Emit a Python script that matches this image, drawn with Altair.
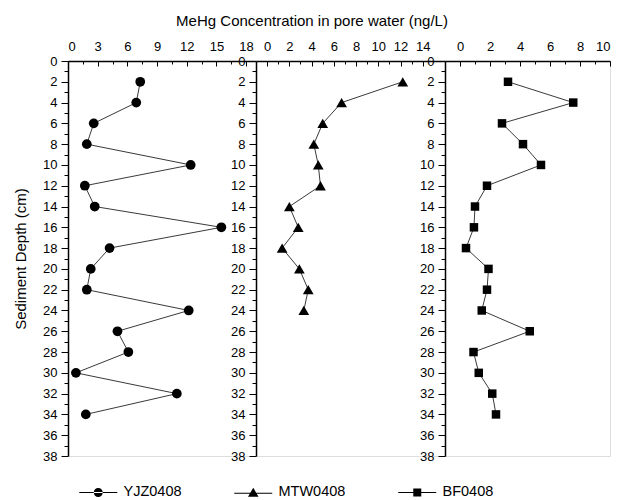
import altair as alt
import pandas as pd

sites = ["YJZ0408", "MTW0408", "BF0408"]

depth_yjz = [2, 4, 6, 8, 10, 12, 14, 16, 18, 20, 22, 24, 26, 28, 30, 32, 34]
conc_yjz = [7.3, 6.9, 2.6, 1.9, 12.4, 1.7, 2.7, 15.5, 4.2, 2.3, 1.9, 12.2, 5.0, 6.1, 0.8, 11.0, 1.8]

depth_mtw = [2, 4, 6, 8, 10, 12, 14, 16, 18, 20, 22, 24]
conc_mtw = [12.2, 6.7, 5.0, 4.2, 4.6, 4.8, 2.0, 2.8, 1.35, 2.9, 3.7, 3.3]

depth_bf = [2, 4, 6, 8, 10, 12, 14, 16, 18, 20, 22, 24, 26, 28, 30, 32, 34]
conc_bf = [3.2, 7.55, 2.8, 4.2, 5.4, 1.8, 1.0, 0.93, 0.4, 1.9, 1.8, 1.45, 4.65, 0.9, 1.25, 2.15, 2.4]

x_domains = [[0, 19], [-1, 16], [-1, 10]]
x_major_ticks = [[0, 3, 6, 9, 12, 15, 18], [0, 2, 4, 6, 8, 10, 12, 14], [0, 2, 4, 6, 8, 10]]
x_minor_ticks = [[1.5, 4.5, 7.5, 10.5, 13.5, 16.5], [1, 3, 5, 7, 9, 11, 13], [1, 3, 5, 7, 9]]
y_major_ticks = list(range(0, 39, 2))
y_minor_ticks = list(range(1, 38, 2))
widths = [188, 189, 165]
shapes = ["circle", "triangle-up", "square"]
sizes = [95, 115, 72]

legend_paths = [
    "M-3.8,-0.1H3.8V0.1H-3.8ZM-0.9,0A0.9,0.9 0 1,0 0.9,0A0.9,0.9 0 1,0 -0.9,0Z",
    "M-3.8,0.05H3.8V0.25H-3.8ZM0,-0.95L1.05,0.85L-1.05,0.85Z",
    "M-3.8,-0.1H3.8V0.1H-3.8ZM-0.8,-0.8H0.8V0.8H-0.8Z",
]

FONT = "Liberation Sans"


def panel(i, depth, conc, site):
    df = pd.DataFrame({"depth": depth, "conc": conc, "site": site})
    xscale = alt.Scale(domain=x_domains[i], nice=False, zero=False)
    yscale = alt.Scale(domain=[0, 38], reverse=True, nice=False, zero=False)

    x_major = alt.Axis(
        orient="top", values=x_major_ticks[i], title=None,
        tickSize={"expr": "-5"}, labelPadding=13,
    )
    x_minor = alt.Axis(
        orient="top", values=x_minor_ticks[i], title=None, labels=False,
        domain=False, tickSize={"expr": "-3"},
    )
    y_major = alt.Axis(
        orient="left", values=y_major_ticks,
        title="Sediment Depth (cm)" if i == 0 else None,
        tickSize=7, labelPadding=4, titlePadding=14,
    )
    y_minor = alt.Axis(
        orient="left", values=y_minor_ticks, title=None, labels=False,
        domain=False, tickSize=4,
    )

    base = alt.Chart(df)
    line = base.mark_line(color="#3a3a3a", strokeWidth=1).encode(
        x=alt.X("conc:Q", scale=xscale, axis=x_major),
        y=alt.Y("depth:Q", scale=yscale, axis=y_major),
        order=alt.Order("depth:Q"),
    )
    pts = base.mark_point(shape=shapes[i], filled=True, color="black", size=sizes[i], opacity=1).encode(
        x=alt.X("conc:Q", scale=xscale, axis=x_minor),
        y=alt.Y("depth:Q", scale=yscale, axis=y_minor),
    )
    layers = [line, pts]
    if i == 0:
        leg = base.mark_point(filled=True, color="black", opacity=0).encode(
            x=alt.X("conc:Q", scale=xscale, axis=None),
            y=alt.Y("depth:Q", scale=yscale, axis=None),
            shape=alt.Shape(
                "site:N",
                scale=alt.Scale(domain=sites, range=legend_paths),
                legend=alt.Legend(
                    title=None,
                    orient="none",
                    legendX=23,
                    legendY=424,
                    direction="horizontal",
                    symbolOpacity=1,
                    symbolSize=100,
                    symbolFillColor="black",
                    symbolStrokeWidth=0,
                    labelOffset=18,
                    columnPadding=52,
                    labelFont=FONT,
                    labelFontSize=14.5,
                    labelColor="black",
                ),
            ),
        )
        layers.append(leg)
    return (
        alt.layer(*layers)
        .resolve_axis(x="independent", y="independent")
        .properties(width=widths[i], height=395)
    )


p1 = panel(0, depth_yjz, conc_yjz, sites[0])
p2 = panel(1, depth_mtw, conc_mtw, sites[1])
p3 = panel(2, depth_bf, conc_bf, sites[2])

chart = (
    alt.hconcat(p1, p2, p3, spacing=0, bounds="flush")
    .properties(
        title=alt.TitleParams(
            "MeHg Concentration in pore water (ng/L)",
            font=FONT,
            fontSize=15,
            fontWeight="normal",
            color="black",
            anchor="middle",
            offset=11,
        ),
        padding={"left": 5, "top": 5, "right": 0, "bottom": 5},
    )
    .configure_axis(
        grid=False,
        domain=True,
        ticks=True,
        domainColor="black",
        domainWidth=1.5,
        tickColor="black",
        tickWidth=1,
        labelFont=FONT,
        labelFontSize=13,
        labelColor="black",
        labelOverlap=False,
        titleFont=FONT,
        titleFontSize=15,
        titleFontWeight="normal",
        titleColor="black",
    )
)

chart.save("out.html", embed_options={"renderer": "svg", "actions": False})
